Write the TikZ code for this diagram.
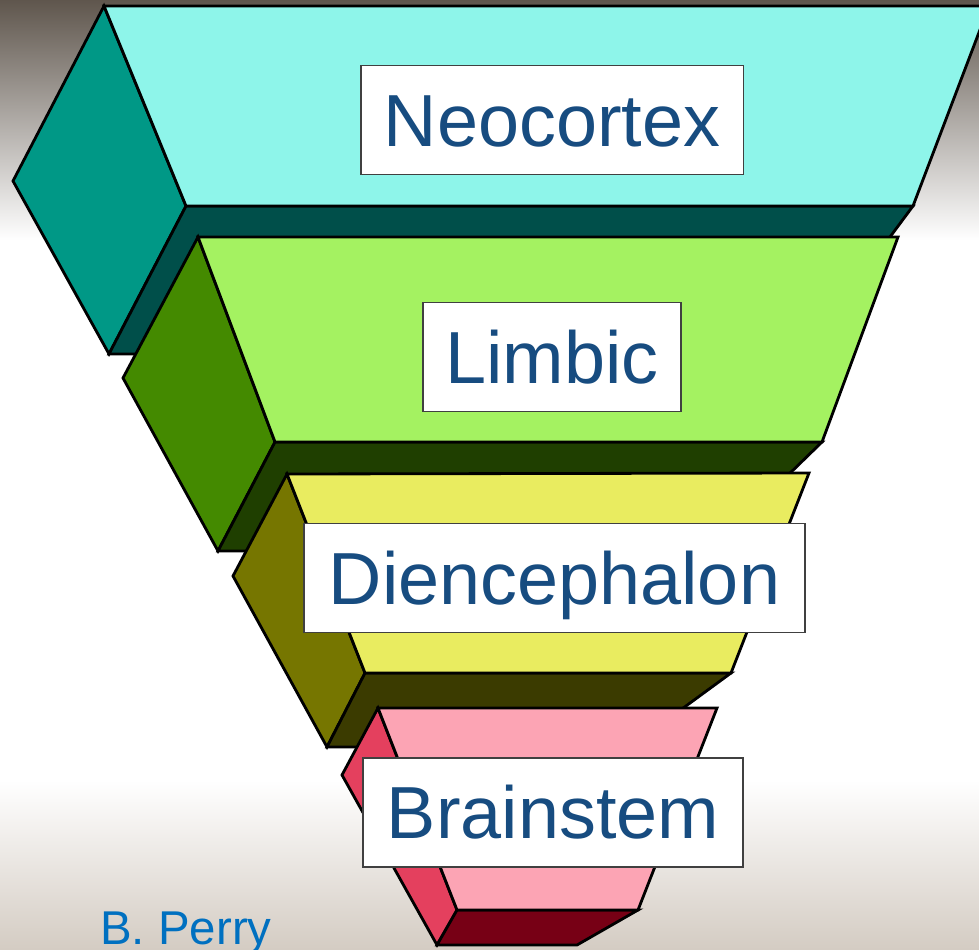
\documentclass[tikz,border=0pt]{standalone}
\usepackage{fontspec}
\setmainfont{Liberation Sans}
\usepackage{tikz}
\usetikzlibrary{positioning}

\definecolor{bgtop}{RGB}{95,86,77}
\definecolor{bgmid}{RGB}{208,201,193}
\definecolor{bgbot}{RGB}{212,204,195}
\definecolor{neofront}{RGB}{142,245,234}
\definecolor{neoside}{RGB}{0,152,134}
\definecolor{neobot}{RGB}{0,79,74}
\definecolor{limfront}{RGB}{164,242,97}
\definecolor{limside}{RGB}{68,138,0}
\definecolor{limbot}{RGB}{31,63,0}
\definecolor{diefront}{RGB}{233,236,96}
\definecolor{dieside}{RGB}{118,118,0}
\definecolor{diebot}{RGB}{59,59,0}
\definecolor{brafront}{RGB}{252,164,180}
\definecolor{braside}{RGB}{228,64,94}
\definecolor{brabot}{RGB}{119,0,21}
\definecolor{lbltext}{RGB}{23,76,128}
\definecolor{credittext}{RGB}{0,112,192}

\begin{document}
\begin{tikzpicture}[x=0.02cm,y=-0.02cm,
  face/.style={draw=black,line width=1.6pt},
  lbl/.style={draw=black!75,fill=white,line width=1.1pt,text=lbltext,
    font=\fontsize{42}{50}\selectfont,text height=30pt,text depth=0pt,
    minimum height=2.18cm,inner sep=0pt}]
\useasboundingbox (0,0) rectangle (979,949);
\clip (0,0) rectangle (979,949);
% background
\shade[top color=bgtop,middle color=bgmid,bottom color=white] (0,0) rectangle (979,240);
\fill[white] (0,240) rectangle (979,780);
\shade[top color=white,bottom color=bgbot] (0,780) rectangle (979,949);
% Neocortex
\filldraw[face,fill=neoside] (104,6) -- (13,181) -- (109,354) -- (186,206) -- cycle;
\filldraw[face,fill=neobot] (186,206) -- (913,206) -- (803,354) -- (109,354) -- cycle;
\filldraw[face,fill=neofront] (104,6) -- (989,6) -- (913,206) -- (186,206) -- cycle;
\node[lbl,minimum width=7.66cm] (neo) at (552,120) {Neocortex};
% Limbic
\filldraw[face,fill=limside] (198,237) -- (123,378) -- (218,551) -- (275,442) -- cycle;
\filldraw[face,fill=limbot] (275,442) -- (822,442) -- (710,551) -- (218,551) -- cycle;
\filldraw[face,fill=limfront] (198,237) -- (898,237) -- (822,442) -- (275,442) -- cycle;
\node[lbl,minimum width=5.16cm] (lim) at (552,357) {Limbic};
% Diencephalon
\filldraw[face,fill=dieside] (287,474) -- (233,576) -- (327,747) -- (365,673) -- cycle;
\filldraw[face,fill=diebot] (365,673) -- (731,673) -- (630,747) -- (327,747) -- cycle;
\filldraw[face,fill=diefront] (287,474) -- (809,473) -- (731,673) -- (365,673) -- cycle;
\node[lbl,minimum width=10.02cm] (die) at (554.5,578) {Diencephalon};
% Brainstem
\filldraw[face,fill=braside] (378,708) -- (342,775) -- (437,945) -- (457,910) -- cycle;
\filldraw[face,fill=brabot] (457,910) -- (638,910) -- (577,945) -- (437,945) -- cycle;
\filldraw[face,fill=brafront] (378,708) -- (717,708) -- (638,910) -- (457,910) -- cycle;
\node[lbl,minimum width=7.6cm] (bra) at (553,812.5) {Brainstem};
% credit
\node[anchor=base west,inner sep=0pt,text=credittext,font=\fontsize{27}{32}\selectfont] (credit) at (100,944) {B. Perry};
\end{tikzpicture}
\end{document}
